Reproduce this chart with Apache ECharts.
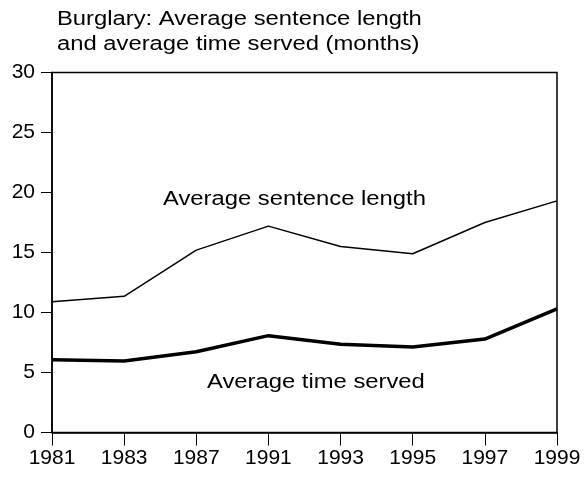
<!DOCTYPE html>
<html>
<head>
<meta charset="utf-8">
<script src="https://cdn.jsdelivr.net/npm/echarts@6/dist/echarts.min.js"></script>
<style>
html,body{margin:0;padding:0;background:#fff;}
#chart{width:585px;height:478px;}
</style>
</head>
<body>
<div id="chart"></div>
<script>
var years = ['1981','1983','1987','1991','1993','1995','1997','1999'];
var sentenceLength = [10.9, 11.35, 15.2, 17.2, 15.5, 14.9, 17.5, 19.3];
var timeServed = [6.07, 5.96, 6.73, 8.07, 7.35, 7.13, 7.79, 10.3];
var yTicks = [0, 5, 10, 15, 20, 25, 30];
var titleLines = ['Burglary: Average sentence length', 'and average time served (months)'];
var seriesNames = ['Average sentence length', 'Average time served'];

var FONT = '"Liberation Sans", Arial, sans-serif';
var FS = 21;
var GFS = 20;
var SX = 1.19;
var chart = echarts.init(document.getElementById('chart'), null, {renderer: 'canvas'});

function label(text, x, y) {
  return {
    type: 'text', x: x, y: y, scaleX: SX, scaleY: 1, z: 10,
    style: {text: text, font: GFS + 'px ' + FONT, fill: '#000', align: 'left', verticalAlign: 'middle'}
  };
}

var option = {
  backgroundColor: '#fff',
  animation: false,
  textStyle: {fontFamily: FONT, color: '#000'},
  grid: {left: 52, right: 28, top: 72.5, bottom: 45.5, show: true, borderColor: '#000', borderWidth: 1.5, backgroundColor: 'transparent'},
  xAxis: {
    type: 'category',
    data: years,
    boundaryGap: false,
    axisLine: {lineStyle: {color: '#000', width: 1.5}},
    axisTick: {show: true, length: 13, lineStyle: {color: '#000', width: 1}},
    axisLabel: {fontFamily: FONT, fontSize: FS, color: '#000', margin: 15, interval: 0},
    splitLine: {show: false}
  },
  yAxis: {
    type: 'value',
    min: yTicks[0], max: yTicks[yTicks.length - 1], interval: 5,
    axisLine: {show: true, lineStyle: {color: '#000', width: 1.5}},
    axisTick: {show: true, length: 11, lineStyle: {color: '#000', width: 1}},
    axisLabel: {fontFamily: FONT, fontSize: FS, color: '#000', margin: 17},
    splitLine: {show: false}
  },
  series: [
    {name: seriesNames[0], type: 'line', data: sentenceLength, showSymbol: false, symbol: 'none',
     lineStyle: {color: '#000', width: 1.5}, z: 3},
    {name: seriesNames[1], type: 'line', data: timeServed, showSymbol: false, symbol: 'none',
     lineStyle: {color: '#000', width: 3.5}, z: 3}
  ],
  graphic: [
    label(titleLines[0], 57, 19),
    label(titleLines[1], 57, 44.5),
    label(seriesNames[0], 163, 199.5),
    label(seriesNames[1], 207, 382)
  ]
};
chart.setOption(option);
</script>
</body>
</html>
